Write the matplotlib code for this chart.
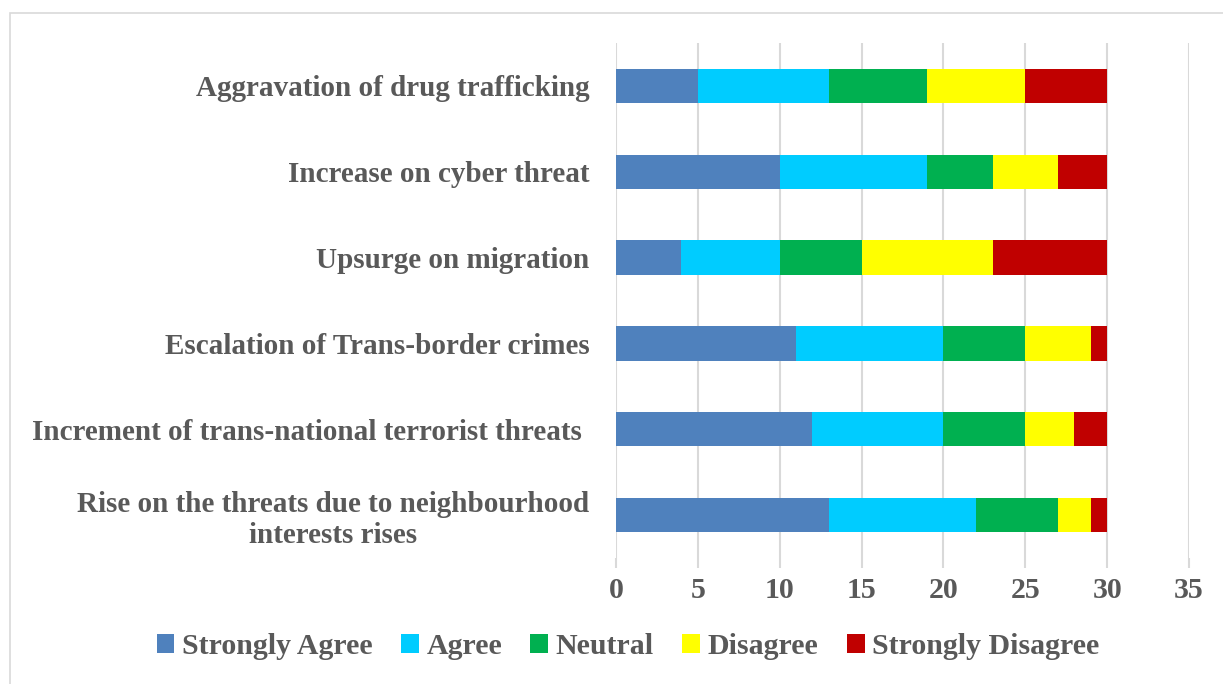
import matplotlib
matplotlib.use("Agg")
from matplotlib import pyplot as plt
from matplotlib.patches import Rectangle
import numpy as np

categories = ["Aggravation of drug trafficking",
              "Increase on cyber threat",
              "Upsurge on migration",
              "Escalation of Trans-border crimes",
              "Increment of trans-national terrorist threats ",
              "Rise on the threats due to neighbourhood\ninterests rises"]
series_names = ["Strongly Agree", "Agree", "Neutral", "Disagree", "Strongly Disagree"]
strongly_agree = [5, 10, 4, 11, 12, 13]
agree = [8, 9, 6, 9, 8, 9]
neutral = [6, 4, 5, 5, 5, 5]
disagree = [6, 4, 8, 4, 3, 2]
strongly_disagree = [5, 3, 7, 1, 2, 1]
colors = ["#4F81BD", "#00CCFF", "#00B050", "#FFFF00", "#C00000"]

text_color = "#595959"
grid_color = "#D9D9D9"
plt.rcParams['font.family'] = ['Liberation Serif', 'DejaVu Serif']
plt.rcParams['font.weight'] = 'bold'

fig = plt.figure(figsize=(12.23, 6.84), dpi=100)
ax = fig.add_axes([616 / 1223, 1 - 558 / 684, (1189 - 616) / 1223, (558 - 43) / 684])

# outer chart border
fig.patches.append(Rectangle((10 / 1223, -0.01), 1.02, 1 - 13 / 684 + 0.01,
                             transform=fig.transFigure, fill=False,
                             edgecolor=grid_color, linewidth=1.2))

y = np.arange(len(categories))
left = np.zeros(len(categories))
for name, vals, c in zip(series_names,
                         [strongly_agree, agree, neutral, disagree, strongly_disagree],
                         colors):
    ax.barh(y, vals, left=left, height=0.4, color=c, label=name, zorder=3)
    left += np.array(vals)

ax.set_ylim(len(categories) - 0.5, -0.5)
ax.set_xlim(0, 35)
ax.set_xticks(range(0, 36, 5))
ax.set_yticks(y)
ax.set_yticklabels(categories, fontsize=21, color=text_color,
                   fontweight='bold', multialignment='center', linespacing=1.2)
ax.tick_params(axis='y', length=0, pad=19)
ax.tick_params(axis='x', length=7, color=grid_color, width=1.5,
               labelsize=21.5, labelcolor=text_color, pad=7)
for lab in ax.get_xticklabels():
    lab.set_fontweight('bold')

ax.grid(axis='x', color=grid_color, linewidth=1.5, zorder=0)
for s in ax.spines.values():
    s.set_visible(False)

fig.legend(loc='center', bbox_to_anchor=(628 / 1223, 1 - 647 / 684), ncol=5,
           frameon=False, handlelength=0.6, handleheight=0.6,
           handletextpad=0.25, columnspacing=0.95, labelcolor=text_color,
           prop={'weight': 'bold', 'size': 21.5})

fig.savefig("out.png", dpi=100)
